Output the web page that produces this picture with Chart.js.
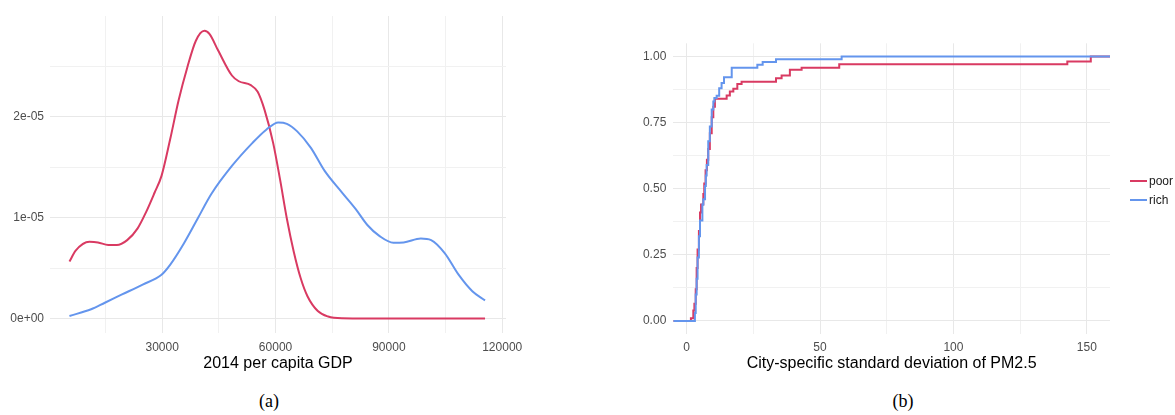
<!DOCTYPE html>
<html>
<head>
<meta charset="utf-8">
<script src="https://cdn.jsdelivr.net/npm/chart.js@4.4.0/dist/chart.umd.min.js"></script>
<style>
  body { margin: 0; background: #fff; width: 1175px; height: 415px; position: relative; overflow: hidden; }
  canvas { position: absolute; top: 0; }
  #chartA { left: 0; }
  #chartB { left: 600px; }
  .caption { position: absolute; top: 391px; font-family: "Liberation Serif", "Times New Roman", serif; font-size: 18px; color: #000; transform: translateX(-50%); }
  .legend { position: absolute; left: 1130px; font-family: "Liberation Sans", Arial, sans-serif; font-size: 12px; color: #1a1a1a; }
  .legend span.key { display: inline-block; width: 17px; height: 2px; vertical-align: middle; margin-right: 2px; position: relative; top: -1px; }
</style>
</head>
<body>
<canvas id="chartA" width="540" height="380"></canvas>
<canvas id="chartB" width="575" height="380"></canvas>
<div class="caption" style="left:269px">(a)</div>
<div class="caption" style="left:903px">(b)</div>
<div class="legend" style="top:174px"><span class="key" style="background:#d93a62"></span>poor</div>
<div class="legend" style="top:193px"><span class="key" style="background:#6495ed"></span>rich</div>
<script>
// panel (a): density of 2014 per capita GDP
const poorGdp = [5450, 7090, 10730, 13000, 15730, 18000, 20730, 23450, 25730, 28000, 29820, 32090, 34360, 36640, 38910, 41180, 42550, 44820, 48450, 50270, 53450, 55270, 57090, 59360, 61180, 63000, 64820, 66640, 68450, 71180, 73910, 77550, 85000, 115450];
const poorDensity = [5.65e-6, 6.73e-6, 7.61e-6, 7.55e-6, 7.29e-6, 7.29e-6, 7.78e-6, 8.92e-6, 1.056e-5, 1.25e-5, 1.415e-5, 1.775e-5, 2.167e-5, 2.49e-5, 2.755e-5, 2.853e-5, 2.82e-5, 2.657e-5, 2.41e-5, 2.353e-5, 2.314e-5, 2.248e-5, 2.069e-5, 1.742e-5, 1.382e-5, 9.9e-6, 6.63e-6, 4.02e-6, 2.22e-6, 7.5e-7, 2e-7, 3e-8, 1e-8, 0];
const richGdp = [5450, 11180, 14820, 19360, 24820, 29820, 32090, 35730, 39360, 43000, 48450, 53900, 57550, 60730, 63000, 65730, 69360, 73000, 77550, 81180, 84360, 87550, 91180, 93900, 98450, 101180, 104820, 108450, 112090, 115450];
const richDensity = [2.6e-7, 9.2e-7, 1.57e-6, 2.39e-6, 3.37e-6, 4.35e-6, 5.33e-6, 7.45e-6, 9.9e-6, 1.235e-5, 1.513e-5, 1.742e-5, 1.873e-5, 1.944e-5, 1.931e-5, 1.856e-5, 1.693e-5, 1.464e-5, 1.252e-5, 1.088e-5, 9.25e-6, 8.17e-6, 7.52e-6, 7.55e-6, 7.94e-6, 7.78e-6, 6.47e-6, 4.35e-6, 2.71e-6, 1.8e-6];
const gdpTicks = [15000, 30000, 45000, 60000, 75000, 90000, 105000, 120000];
const gdpTickLabels = ['', '30000', '', '60000', '', '90000', '', '120000'];
const densTicks = [0, 5e-6, 1e-5, 1.5e-5, 2e-5, 2.5e-5];
const densTickLabels = ['0e+00', '', '1e-05', '', '2e-05', ''];

// panel (b): ECDF of city-specific sd of PM2.5
const poorSd = [-5, 1.6, 2.5, 2.9, 3.4, 3.75, 4.1, 4.6, 5.0, 5.4, 6.25, 6.6, 7.1, 7.6, 8.1, 8.7, 9.4, 10.0, 10.6, 15.0, 16.2, 17.5, 19.0, 20.6, 33.5, 35.6, 38.7, 43.1, 57.2, 142.7, 151.5, 158.7];
const poorCdf = [0, 0.01, 0.04, 0.065, 0.12, 0.2, 0.27, 0.34, 0.41, 0.44, 0.48, 0.52, 0.57, 0.61, 0.65, 0.71, 0.77, 0.81, 0.84, 0.853, 0.868, 0.878, 0.896, 0.905, 0.918, 0.928, 0.95, 0.958, 0.971, 0.981, 1.0, 1.0];
const richSd = [-5, 3.1, 3.4, 3.75, 4.1, 4.6, 5.0, 5.9, 6.25, 6.9, 7.2, 7.5, 8.1, 8.7, 9.4, 10.0, 10.4, 11.25, 12.2, 13.1, 14.0, 16.9, 26.5, 28.5, 33.5, 58.1, 158.7];
const richCdf = [0, 0.03, 0.1, 0.16, 0.24, 0.32, 0.38, 0.44, 0.46, 0.51, 0.55, 0.59, 0.68, 0.735, 0.8, 0.83, 0.843, 0.852, 0.88, 0.9, 0.922, 0.958, 0.969, 0.979, 0.99, 1.0, 1.0];
const sdTicks = [0, 25, 50, 75, 100, 125, 150];
const sdTickLabels = ['0', '', '50', '', '100', '', '150'];
const cdfTicks = [0, 0.125, 0.25, 0.375, 0.5, 0.625, 0.75, 0.875, 1];
const cdfTickLabels = ['0.00', '', '0.25', '', '0.50', '', '0.75', '', '1.00'];

const RED = '#d93a62';
const BLUE = '#6495ed';
const sans = '"Liberation Sans", Arial, sans-serif';

function pts(xs, ys) {
    return xs.map((x, i) => ({ x: x, y: ys[i] }));
}

function axis(ticks, labels, min, max, opts) {
    return {
        type: 'linear',
        min: min,
        max: max,
        border: { display: false },
        afterBuildTicks: s => { s.ticks = ticks.map(v => ({ value: v })); },
        afterFit: s => {
            if (opts.width) s.width = opts.width;
            if (opts.height) s.height = opts.height;
        },
        grid: {
            drawTicks: false,
            color: c => labels[c.index] ? '#e8e8e8' : '#f1f1f1',
            lineWidth: 1
        },
        ticks: {
            autoSkip: false,
            maxRotation: 0,
            padding: opts.pad,
            color: '#4d4d4d',
            font: { family: sans, size: 12 },
            callback: (v, i) => labels[i]
        },
        title: opts.title ? {
            display: true,
            text: opts.title,
            color: '#000',
            font: { family: sans, size: 16 },
            padding: 0
        } : { display: false }
    };
}

const common = {
    responsive: false,
    animation: false,
    plugins: { legend: { display: false }, tooltip: { enabled: false } },
    elements: { point: { radius: 0 } }
};

new Chart(document.getElementById('chartA'), {
    type: 'line',
    data: {
        datasets: [
            { label: 'rich', data: pts(richGdp, richDensity), borderColor: BLUE, borderWidth: 2, cubicInterpolationMode: 'monotone', order: 0 },
            { label: 'poor', data: pts(poorGdp, poorDensity), borderColor: RED, borderWidth: 2, cubicInterpolationMode: 'monotone', order: 1 }
        ]
    },
    options: Object.assign({}, common, {
        layout: { padding: { left: 0, top: 16, right: 34, bottom: 6.4 } },
        scales: {
            x: axis(gdpTicks, gdpTickLabels, 300, 121000, { height: 40.6, pad: 7, title: '2014 per capita GDP' }),
            y: axis(densTicks, densTickLabels, -1.43e-6, 3.0e-5, { width: 50, pad: 6 })
        }
    })
});

new Chart(document.getElementById('chartB'), {
    type: 'line',
    data: {
        datasets: [
            { label: 'rich', data: pts(richSd, richCdf), borderColor: BLUE, borderWidth: 2, stepped: true, order: 0 },
            { label: 'poor', data: pts(poorSd, poorCdf), borderColor: RED, borderWidth: 2, stepped: true, order: 1 }
        ]
    },
    options: Object.assign({}, common, {
        layout: { padding: { left: 0, top: 43.3, right: 65, bottom: 6.4 } },
        scales: {
            x: axis(sdTicks, sdTickLabels, -5, 158.7, { height: 39.4, pad: 6, title: 'City-specific standard deviation of PM2.5' }),
            y: axis(cdfTicks, cdfTickLabels, -0.05, 1.05, { width: 73.3, pad: 7 })
        }
    })
});
</script>
</body>
</html>
